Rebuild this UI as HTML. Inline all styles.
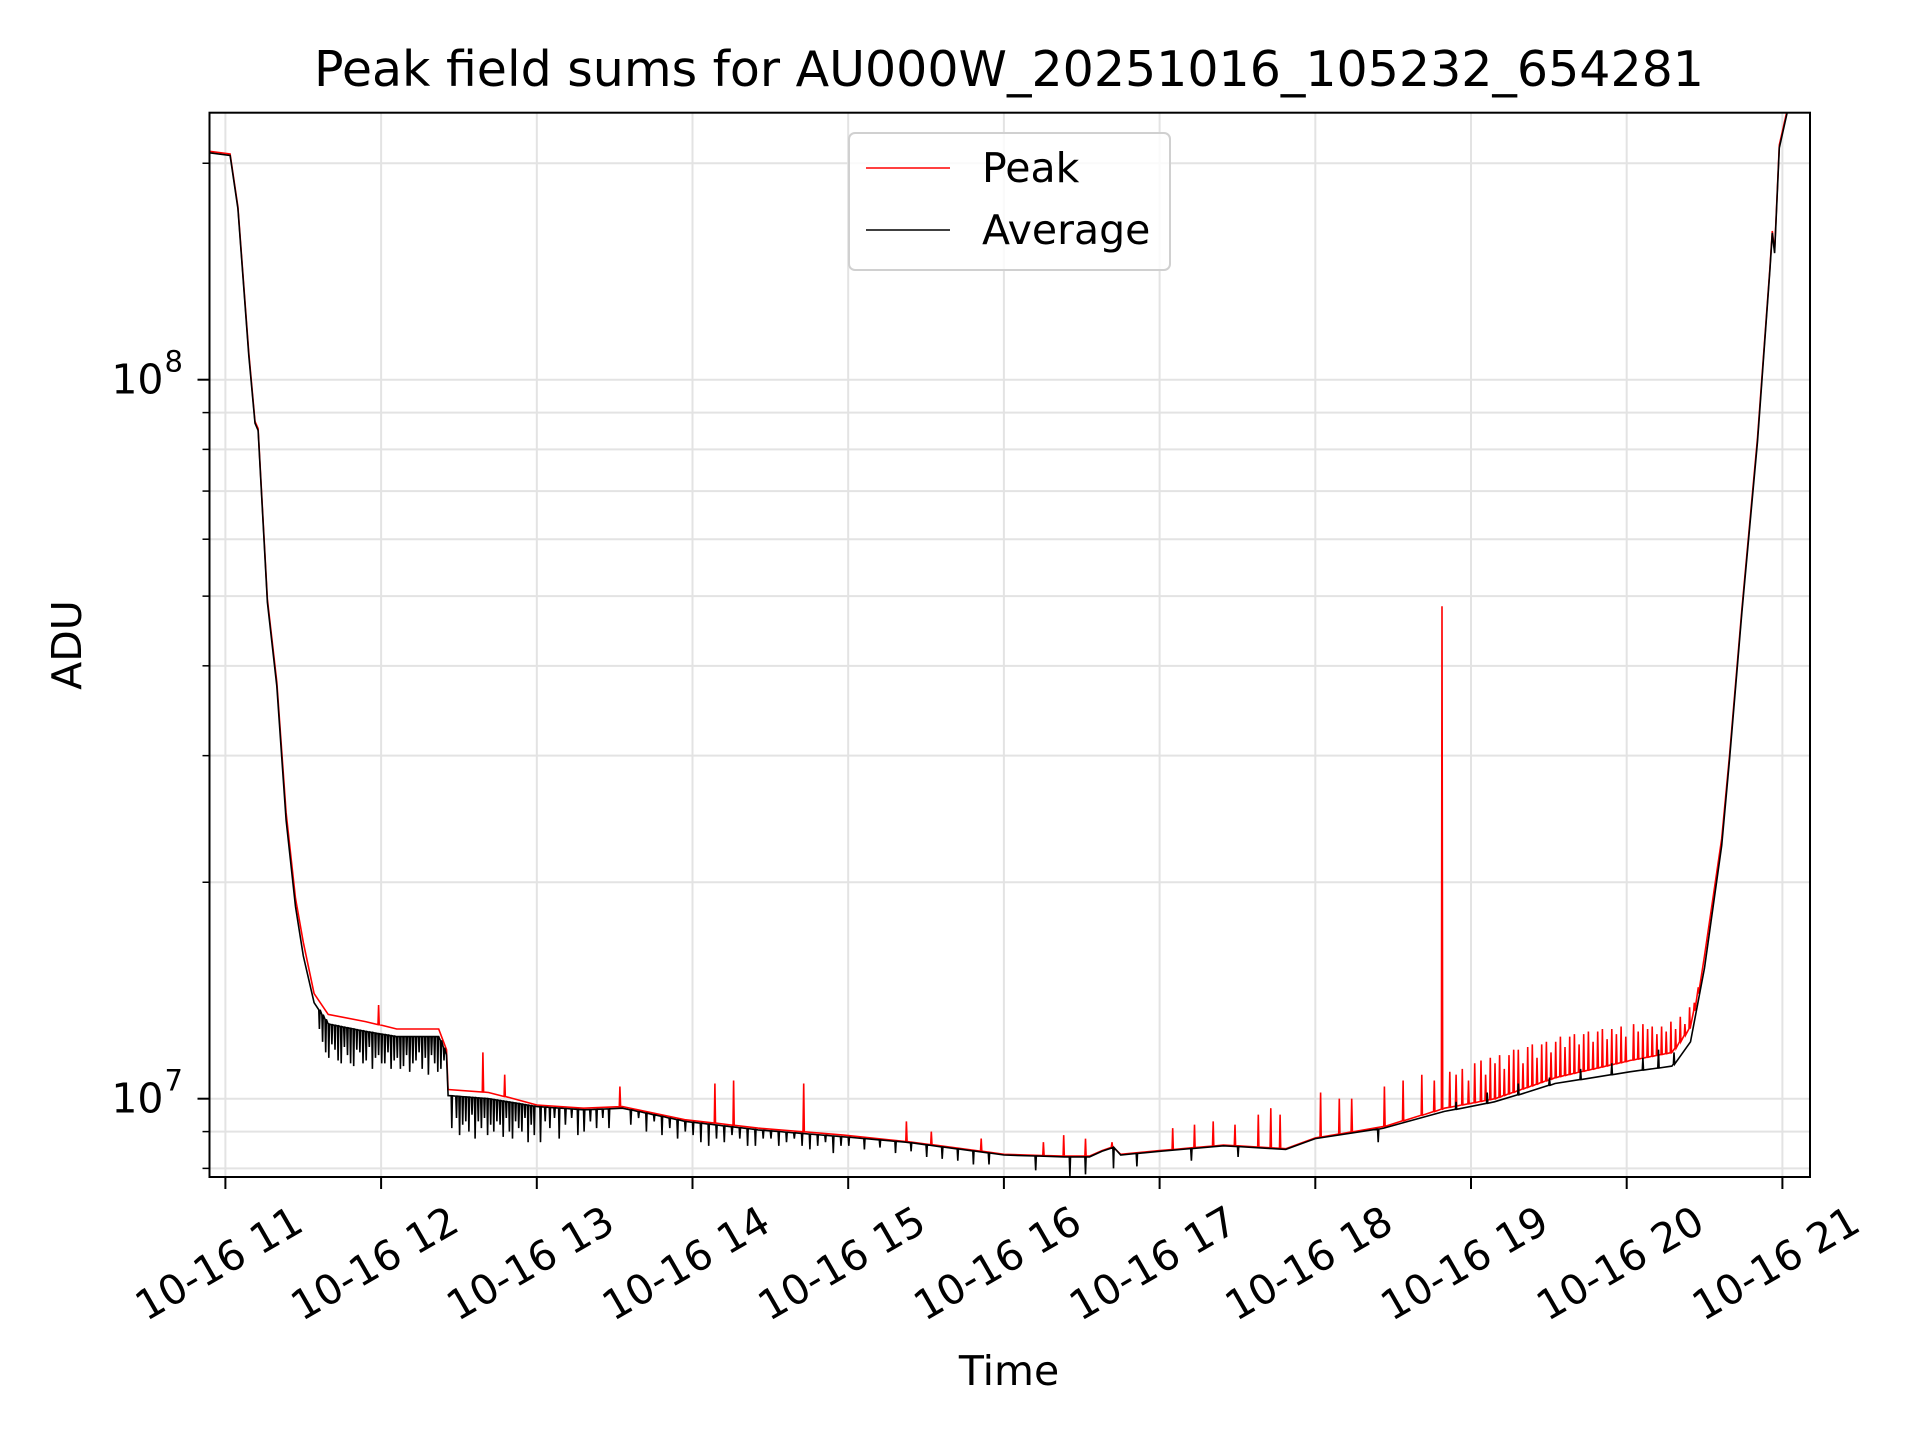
<!DOCTYPE html>
<html><head><meta charset="utf-8">
<style>
html,body{margin:0;padding:0;background:#fff;}
svg{display:block;font-family:"DejaVu Sans","Liberation Sans",sans-serif;}
</style></head>
<body>
<svg id="chart" width="1920" height="1440" viewBox="0 0 1920 1440" xmlns="http://www.w3.org/2000/svg">
<rect x="0" y="0" width="1920" height="1440" fill="#fff"/>
<g id="grid"></g>
<g id="series"></g>
<rect x="209.5" y="112.7" width="1600.5" height="1064.3" fill="none" stroke="#000" stroke-width="2"/>
<g id="axes"></g>
<text x="1009" y="86" font-size="49" text-anchor="middle">Peak field sums for AU000W_20251016_105232_654281</text>
<text x="0" y="0" font-size="41" text-anchor="middle" transform="translate(81,645) rotate(-90)">ADU</text>
<text x="1009" y="1385" font-size="41" text-anchor="middle">Time</text>
<g>
<rect x="849" y="133" width="321" height="137" rx="6" fill="#fff" fill-opacity="0.8" stroke="#d0d0d0" stroke-width="2"/>
<line x1="866" y1="168" x2="950" y2="168" stroke="#f00" stroke-width="1.5"/>
<text x="982" y="182" font-size="41">Peak</text>
<line x1="866" y1="230" x2="950" y2="230" stroke="#000" stroke-width="1.5"/>
<text x="982" y="244" font-size="41">Average</text>
</g>
</svg>
<script>
// ---- data (hours of day 2025-10-16, ADU) ----
const avgTimes = [10.88,11.03,11.08,11.15,11.19,11.21,11.27,11.33,11.39,11.45,11.50,11.57,11.66,11.90,12.10,12.37,12.42,12.43,12.69,13.0,13.3,13.55,13.95,14.42,14.97,15.37,16.0,16.39,16.55,16.63,16.70,16.75,17.0,17.41,17.81,18.0,18.44,18.83,19.15,19.54,20.02,20.29,20.41,20.50,20.61,20.66,20.74,20.84,20.92,20.935,20.95,20.98,21.04];
const avgValues = [2.07e8,2.05e8,1.73e8,1.08e8,8.7e7,8.5e7,4.9e7,3.75e7,2.44e7,1.85e7,1.58e7,1.36e7,1.27e7,1.24e7,1.22e7,1.22e7,1.15e7,1.01e7,1.0e7,9.75e6,9.65e6,9.7e6,9.3e6,9.05e6,8.85e6,8.7e6,8.35e6,8.3e6,8.3e6,8.45e6,8.55e6,8.35e6,8.45e6,8.6e6,8.5e6,8.8e6,9.1e6,9.6e6,9.9e6,1.05e7,1.09e7,1.11e7,1.20e7,1.52e7,2.25e7,2.96e7,4.75e7,8.2e7,1.42e8,1.6e8,1.5e8,2.1e8,2.4e8];
const peakValues = [2.08e8,2.06e8,1.74e8,1.09e8,8.75e7,8.55e7,4.95e7,3.8e7,2.5e7,1.9e7,1.65e7,1.40e7,1.31e7,1.28e7,1.25e7,1.25e7,1.17e7,1.03e7,1.02e7,9.8e6,9.7e6,9.75e6,9.35e6,9.1e6,8.9e6,8.72e6,8.37e6,8.32e6,8.32e6,8.47e6,8.57e6,8.37e6,8.47e6,8.62e6,8.52e6,8.82e6,9.15e6,9.7e6,1.0e7,1.07e7,1.13e7,1.16e7,1.26e7,1.58e7,2.3e7,3.0e7,4.8e7,8.3e7,1.43e8,1.61e8,1.51e8,2.12e8,2.42e8];
const peakSpikeTimes = [11.98,12.65,12.79,13.53,14.14,14.26,14.71,15.37,15.53,15.85,16.25,16.38,16.52,16.69,17.08,17.22,17.34,17.48,17.63,17.71,17.77,18.03,18.15,18.23,18.44,18.56,18.68,18.76,18.81,18.86,18.90,18.94,18.98,19.02,19.06,19.09,19.12,19.15,19.18,19.21,19.24,19.27,19.30,19.33,19.36,19.39,19.42,19.45,19.48,19.51,19.54,19.57,19.60,19.63,19.66,19.69,19.72,19.75,19.78,19.81,19.84,19.87,19.90,19.93,19.96,19.99,20.04,20.07,20.10,20.13,20.16,20.19,20.22,20.25,20.28,20.31,20.34,20.37,20.40,20.43,20.46];
const peakSpikeValues = [1.35e7,1.16e7,1.08e7,1.04e7,1.05e7,1.06e7,1.05e7,9.3e6,9.0e6,8.8e6,8.7e6,8.9e6,8.8e6,8.7e6,9.1e6,9.2e6,9.3e6,9.2e6,9.5e6,9.7e6,9.5e6,1.02e7,1.0e7,1.0e7,1.04e7,1.06e7,1.08e7,1.06e7,4.84e7,1.09e7,1.08e7,1.1e7,1.06e7,1.12e7,1.13e7,1.08e7,1.14e7,1.12e7,1.15e7,1.1e7,1.15e7,1.17e7,1.17e7,1.12e7,1.18e7,1.19e7,1.14e7,1.19e7,1.2e7,1.16e7,1.2e7,1.22e7,1.18e7,1.22e7,1.23e7,1.19e7,1.23e7,1.24e7,1.2e7,1.24e7,1.25e7,1.21e7,1.25e7,1.23e7,1.26e7,1.22e7,1.27e7,1.24e7,1.27e7,1.25e7,1.26e7,1.23e7,1.26e7,1.24e7,1.28e7,1.25e7,1.3e7,1.27e7,1.34e7,1.36e7,1.4e7];
const avgDipTimes = [11.60,11.62,11.64,11.66,11.68,11.70,11.72,11.74,11.76,11.78,11.80,11.82,11.84,11.86,11.88,11.90,11.92,11.94,11.96,11.98,12.00,12.02,12.04,12.06,12.08,12.10,12.12,12.14,12.16,12.18,12.20,12.22,12.24,12.26,12.28,12.30,12.32,12.34,12.36,12.38,12.40,12.45,12.48,12.50,12.52,12.54,12.56,12.58,12.60,12.62,12.64,12.66,12.68,12.70,12.72,12.74,12.76,12.78,12.80,12.82,12.84,12.86,12.88,12.90,12.92,12.94,12.96,12.98,13.02,13.05,13.08,13.11,13.14,13.18,13.22,13.26,13.30,13.34,13.38,13.42,13.46,13.6,13.65,13.7,13.75,13.8,13.85,13.9,13.95,14.0,14.05,14.1,14.15,14.2,14.25,14.3,14.35,14.4,14.45,14.5,14.55,14.6,14.65,14.7,14.75,14.8,14.85,14.9,14.95,15.0,15.1,15.2,15.3,15.4,15.5,15.6,15.7,15.8,15.9,16.2,16.42,16.52,16.7,16.85,17.2,17.5,18.4,18.9,19.1,19.3,19.5,19.7,19.9,20.1,20.2,20.3];
const avgDipValues = [1.25e7,1.20e7,1.16e7,1.14e7,1.19e7,1.17e7,1.13e7,1.12e7,1.18e7,1.15e7,1.12e7,1.11e7,1.17e7,1.16e7,1.12e7,1.13e7,1.18e7,1.10e7,1.14e7,1.15e7,1.12e7,1.12e7,1.16e7,1.10e7,1.13e7,1.14e7,1.10e7,1.11e7,1.15e7,1.09e7,1.12e7,1.13e7,1.16e7,1.10e7,1.14e7,1.08e7,1.15e7,1.12e7,1.09e7,1.10e7,1.13e7,9.1e6,9.4e6,8.9e6,9.2e6,9.3e6,9.0e6,9.5e6,8.8e6,9.3e6,9.1e6,9.4e6,8.9e6,9.2e6,9.0e6,9.3e6,9.2e6,8.85e6,9.4e6,9.0e6,8.8e6,9.3e6,9.1e6,9.0e6,9.4e6,8.7e6,9.2e6,8.9e6,8.7e6,9.3e6,9.1e6,9.4e6,8.8e6,9.2e6,9.4e6,8.9e6,9.0e6,9.3e6,9.1e6,9.4e6,9.1e6,9.2e6,9.4e6,9.0e6,9.3e6,8.9e6,9.1e6,8.8e6,9.0e6,8.9e6,8.7e6,8.6e6,8.8e6,8.7e6,8.9e6,8.8e6,8.6e6,8.6e6,8.8e6,8.8e6,8.6e6,8.7e6,8.8e6,8.6e6,8.5e6,8.6e6,8.7e6,8.4e6,8.6e6,8.6e6,8.5e6,8.55e6,8.4e6,8.45e6,8.3e6,8.25e6,8.2e6,8.1e6,8.1e6,7.95e6,7.8e6,7.85e6,8.0e6,8.05e6,8.2e6,8.3e6,8.7e6,9.9e6,1.02e7,1.05e7,1.07e7,1.1e7,1.12e7,1.14e7,1.17e7,1.16e7];
const xTickHours = [11,12,13,14,15,16,17,18,19,20,21];
const xTickLabels = ["10-16 11","10-16 12","10-16 13","10-16 14","10-16 15","10-16 16","10-16 17","10-16 18","10-16 19","10-16 20","10-16 21"];
const yMajorExps = [7,8];
const yMinorValues = [8e6,9e6,2e7,3e7,4e7,5e7,6e7,7e7,8e7,9e7,2e8];

// ---- axes ----
const L=209.5,R=1810,T=112.7,B=1177;
const X = h => 225.4 + (h-11)*155.7;
const Y = v => 1098.7 - (Math.log10(v)-7)*719;
const NS="http://www.w3.org/2000/svg";
function mk(tag,attrs,parent){const e=document.createElementNS(NS,tag);for(const k in attrs)e.setAttribute(k,attrs[k]);parent.appendChild(e);return e;}
const grid=document.getElementById('grid'),axes=document.getElementById('axes'),series=document.getElementById('series');

yMinorValues.forEach(v=>{const y=Y(v);
  const g=mk('line',{x1:L,x2:R,y1:y,y2:y,stroke:'#e3e3e3','stroke-width':2},grid);
  
  
  const t=mk('line',{x1:L-7,x2:L,y1:y,y2:y,stroke:'#000','stroke-width':1.5},axes);
  
  
});
yMajorExps.forEach(e=>{const y=Y(Math.pow(10,e));
  const g=mk('line',{x1:L,x2:R,y1:y,y2:y,stroke:'#e3e3e3','stroke-width':2},grid);
  
  
  const t=mk('line',{x1:L-12,x2:L,y1:y,y2:y,stroke:'#000','stroke-width':2},axes);
  
  
  const tx=mk('text',{x:L-46,y:y+14,'font-size':41,'text-anchor':'end'},axes);
  tx.textContent='10';
  
  
  const sp=mk('text',{x:L-45,y:y-8,'font-size':29,'text-anchor':'start'},axes);
  sp.textContent=String(e);
  
  
});
xTickHours.forEach((h,i)=>{const x=X(h);
  const g=mk('line',{x1:x,x2:x,y1:T,y2:B,stroke:'#e3e3e3','stroke-width':2},grid);
  
  
  const t=mk('line',{x1:x,x2:x,y1:B,y2:B+12,stroke:'#000','stroke-width':2},axes);
  
  
  const tx=mk('text',{x:0,y:0,'font-size':41,'text-anchor':'middle','dominant-baseline':'middle',transform:`translate(${x-5},1266) rotate(-30)`},axes);
  tx.textContent=xTickLabels[i];
  
  
});

// ---- series ----
function interp(times,vals,h){
  if(h<=times[0])return vals[0];
  for(let i=1;i<times.length;i++){if(h<=times[i]){const f=(h-times[i-1])/(times[i]-times[i-1]);return Math.pow(10,Math.log10(vals[i-1])+f*(Math.log10(vals[i])-Math.log10(vals[i-1])));}}
  return vals[vals.length-1];
}
function buildPath(times,vals,evTimes,evVals){
  const pts=times.map((t,i)=>({t,v:vals[i]}));
  evTimes.forEach((t,i)=>{const b=interp(times,vals,t);pts.push({t,v:b},{t:t+0.004,v:evVals[i]},{t:t+0.008,v:b});});
  pts.sort((a,b)=>a.t-b.t);
  return pts.map((p,i)=>(i?'L':'M')+X(p.t).toFixed(1)+','+Y(p.v).toFixed(1)).join(' ');
}
const clip=mk('clipPath',{id:'plotclip'},mk('defs',{},series));
mk('rect',{x:L,y:T,width:R-L,height:B-T},clip);
const pk=mk('path',{d:buildPath(avgTimes,peakValues,peakSpikeTimes,peakSpikeValues),fill:'none',stroke:'#f00','stroke-width':1.6,'clip-path':'url(#plotclip)'},series);


const av=mk('path',{d:buildPath(avgTimes,avgValues,avgDipTimes,avgDipValues),fill:'none',stroke:'#000','stroke-width':1.6,'clip-path':'url(#plotclip)'},series);


</script>
</body></html>
